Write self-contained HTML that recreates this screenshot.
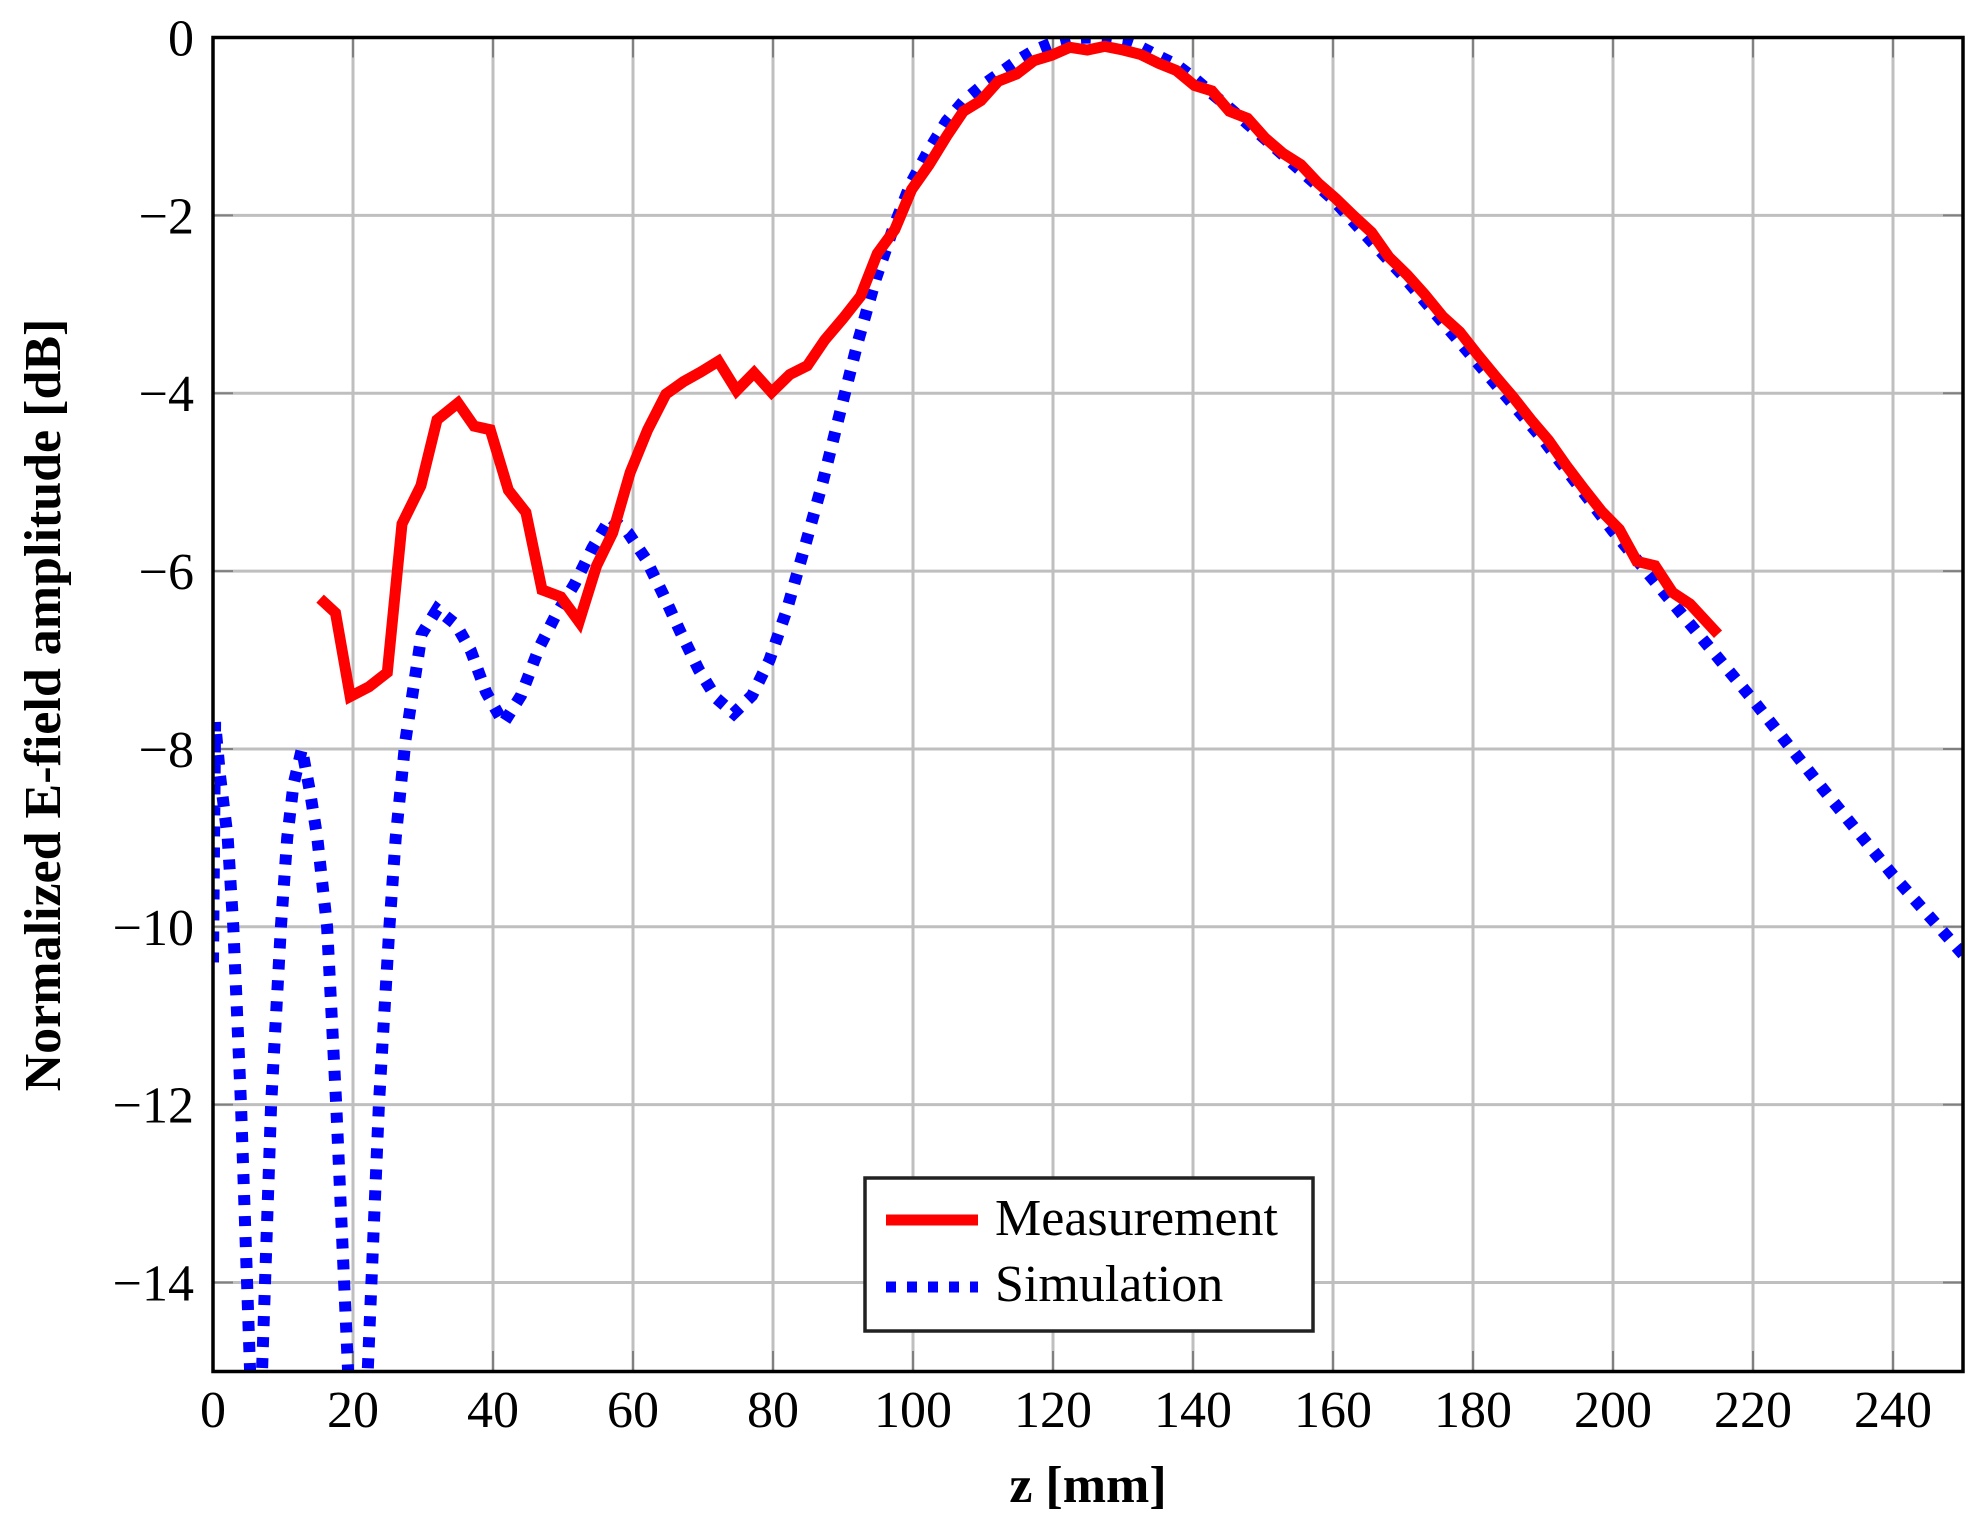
<!DOCTYPE html>
<html><head><meta charset="utf-8"><style>
html,body{margin:0;padding:0;background:#fff;}
svg{display:block;}
text{font-family:"Liberation Serif",serif;fill:#000;}
</style></head><body>
<svg id="s" width="1983" height="1525" viewBox="0 0 1983 1525" xmlns="http://www.w3.org/2000/svg">
<defs><clipPath id="c"><rect x="213" y="37.5" width="1750" height="1334"/></clipPath></defs>
<g id="grid" stroke="#bfbfbf" stroke-width="3"></g>
<g id="ticks" stroke="#808080" stroke-width="2"></g>
<g clip-path="url(#c)">
<polyline id="sim" fill="none" stroke="#0000ff" stroke-width="12" stroke-dasharray="10 11" stroke-linejoin="miter"/>
<polyline id="meas" fill="none" stroke="#ff0000" stroke-width="11" stroke-linejoin="miter"/>
</g>
<rect x="213" y="37.5" width="1750" height="1334" fill="none" stroke="#000" stroke-width="3.5"/>
<g id="labels" font-size="52"></g>
<text x="1088" y="1502" font-size="52" font-weight="bold" text-anchor="middle" fill="#222">z [mm]</text>
<text transform="translate(60,705) rotate(-90)" font-size="52" font-weight="bold" text-anchor="middle" fill="#222">Normalized E-field amplitude [dB]</text>
<rect x="865" y="1178" width="448" height="153" fill="#fff" stroke="#222" stroke-width="3.5"/>
<line x1="886" y1="1220" x2="978" y2="1220" stroke="#ff0000" stroke-width="11"/>
<line x1="886" y1="1287" x2="978" y2="1287" stroke="#0000ff" stroke-width="11" stroke-dasharray="10 11"/>
<text x="995" y="1235" font-size="52">Measurement</text>
<text x="995" y="1301" font-size="52">Simulation</text>
</svg>
<script>
const X=z=>213+z*7, Y=v=>37.5-v*88.93;
const ns="http://www.w3.org/2000/svg";
function el(p,t,a,txt){const e=document.createElementNS(ns,t);for(const k in a)e.setAttribute(k,a[k]);if(txt!=null)e.textContent=txt;document.getElementById(p).appendChild(e);}
for(let z=20;z<250;z+=20){el("grid","line",{x1:X(z),y1:37.5,x2:X(z),y2:1371});el("ticks","line",{x1:X(z),y1:1371,x2:X(z),y2:1351});el("ticks","line",{x1:X(z),y1:37.5,x2:X(z),y2:57.5});}
for(let v=-2;v>-15;v-=2){el("grid","line",{x1:213,y1:Y(v),x2:1963,y2:Y(v)});el("ticks","line",{x1:213,y1:Y(v),x2:233,y2:Y(v)});el("ticks","line",{x1:1963,y1:Y(v),x2:1943,y2:Y(v)});}
for(let z=0;z<=240;z+=20)el("labels","text",{x:X(z),y:1427,"text-anchor":"middle"},String(z));
for(let v=0;v>=-14;v-=2)el("labels","text",{x:194,y:Y(v)+18,"text-anchor":"end"},v==0?"0":"\u2212"+(-v));
const m=[[15.3,-6.31],[17.5,-6.47],[19.6,-7.41],[22.3,-7.3],[24.9,-7.14],[27,-5.47],[29.7,-5.04],[32,-4.3],[35,-4.11],[37.3,-4.37],[39.6,-4.41],[42.2,-5.09],[44.7,-5.34],[47,-6.21],[49.7,-6.29],[52.3,-6.57],[54.8,-5.94],[57.1,-5.57],[59.6,-4.89],[62.1,-4.41],[64.7,-4.01],[67.2,-3.87],[69.7,-3.76],[72.2,-3.64],[74.8,-3.97],[77.3,-3.77],[79.8,-3.99],[82.4,-3.79],[84.9,-3.69],[87.4,-3.4],[90,-3.16],[92.5,-2.91],[94.9,-2.43],[97.4,-2.16],[99.8,-1.71],[102.3,-1.43],[104.8,-1.11],[107.2,-0.83],[109.7,-0.71],[112.2,-0.49],[114.8,-0.41],[117.3,-0.26],[119.8,-0.2],[122.4,-0.11],[124.9,-0.14],[127.4,-0.1],[130,-0.14],[132.5,-0.19],[135.1,-0.29],[137.6,-0.37],[140.2,-0.54],[142.7,-0.6],[145.2,-0.83],[147.8,-0.91],[150.3,-1.13],[152.8,-1.3],[155.4,-1.43],[157.9,-1.64],[160.4,-1.81],[163,-2.01],[165.5,-2.19],[168,-2.47],[170.6,-2.67],[173.1,-2.89],[175.7,-3.14],[178.1,-3.31],[180.7,-3.57],[183.2,-3.81],[185.7,-4.04],[188.3,-4.3],[190.8,-4.53],[193.3,-4.81],[195.8,-5.07],[198.4,-5.33],[200.9,-5.53],[203.4,-5.89],[206,-5.94],[208.5,-6.24],[211,-6.37],[215,-6.71]];
const s=[[0,-10.4],[0.3,-7.7],[1,-8.3],[2.1,-9],[2.9,-10],[4,-12],[5.3,-15],[6.2,-15.4],[7,-15],[8.3,-12],[9.7,-10],[10.6,-9],[11.5,-8.4],[12.7,-8],[13.9,-8.5],[14.9,-9],[16.3,-10],[17.6,-12],[19.3,-15],[20.7,-15.4],[22.1,-15],[23.7,-12],[25.2,-10],[26.1,-9],[27.5,-7.9],[29.8,-6.71],[32,-6.43],[34.7,-6.6],[36.8,-6.89],[39,-7.36],[41.5,-7.71],[44,-7.4],[46.6,-6.86],[49,-6.49],[51.7,-6.14],[54.2,-5.74],[56.8,-5.4],[59.3,-5.57],[61.8,-5.86],[64.3,-6.26],[66.8,-6.69],[69.4,-7.11],[71.9,-7.43],[74.4,-7.6],[77,-7.4],[79.5,-7],[82,-6.43],[84.6,-5.71],[87.1,-5],[89.6,-4.21],[92.1,-3.43],[94.7,-2.71],[97.2,-2.14],[99.7,-1.64],[102.3,-1.26],[104.8,-0.94],[107.3,-0.71],[109.9,-0.54],[112.4,-0.4],[114.9,-0.26],[117.4,-0.14],[120,-0.06],[122.5,-0.01],[125,0],[127.6,-0.01],[130,-0.04],[132.6,-0.11],[135.1,-0.21],[137.7,-0.31],[140.2,-0.46],[142.7,-0.63],[145.3,-0.8],[147.8,-0.97],[150.3,-1.14],[160,-1.82],[170,-2.68],[180,-3.6],[190,-4.52],[200,-5.55],[210,-6.5],[220,-7.45],[230,-8.45],[240,-9.42],[250,-10.31]];
const pts=a=>a.map(p=>X(p[0]).toFixed(1)+","+Y(p[1]).toFixed(1)).join(" ");
document.getElementById("meas").setAttribute("points",pts(m));
document.getElementById("sim").setAttribute("points",pts(s));
</script>
</body></html>
